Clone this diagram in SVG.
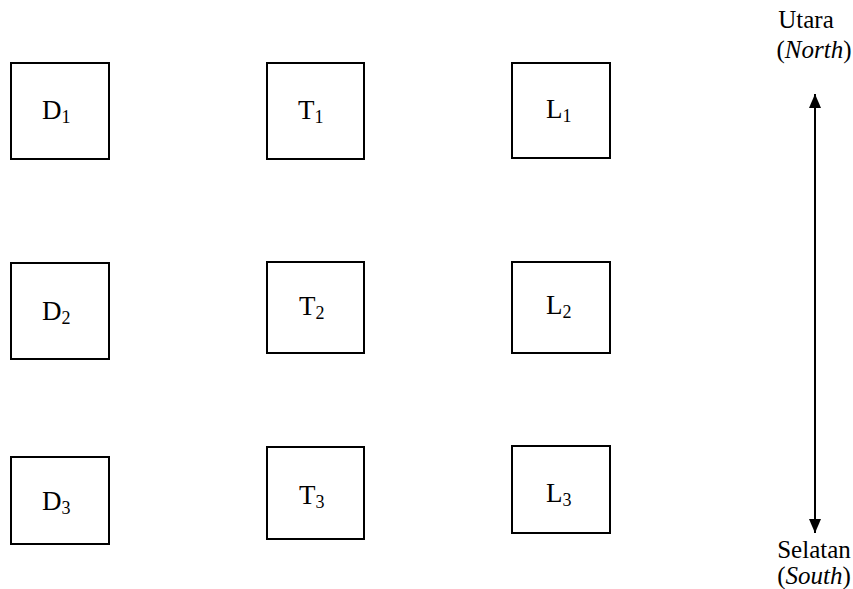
<svg xmlns="http://www.w3.org/2000/svg" width="853" height="589" viewBox="0 0 853 589">
<style>
.box{fill:#fff;stroke:#000;stroke-width:2}
.lbl{font-family:"Liberation Serif",serif;font-size:27px;fill:#000}
.sub{font-size:18px}
.dir{font-family:"Liberation Serif",serif;font-size:25px;fill:#000;text-anchor:middle}
</style>
<defs>
<marker id="ah" viewBox="0 0 14 12" refX="14" refY="6" markerWidth="14" markerHeight="12" markerUnits="userSpaceOnUse" orient="auto-start-reverse">
<path d="M0,0 L14,6 L0,12 Z" fill="#000"/>
</marker>
</defs>
<rect width="853" height="589" fill="#fff"/>
<g id="D1"><rect class="box" x="11" y="63" width="98" height="96"/><text class="lbl" x="42" y="119">D<tspan class="sub" dy="4">1</tspan></text></g>
<g id="T1"><rect class="box" x="267" y="63" width="97" height="96"/><text class="lbl" x="298" y="119">T<tspan class="sub" dy="4">1</tspan></text></g>
<g id="L1"><rect class="box" x="512" y="63" width="98" height="95"/><text class="lbl" x="546" y="118">L<tspan class="sub" dy="4">1</tspan></text></g>
<g id="D2"><rect class="box" x="11" y="263" width="98" height="96"/><text class="lbl" x="42" y="320">D<tspan class="sub" dy="4">2</tspan></text></g>
<g id="T2"><rect class="box" x="267" y="262" width="97" height="91"/><text class="lbl" x="299" y="315">T<tspan class="sub" dy="4">2</tspan></text></g>
<g id="L2"><rect class="box" x="512" y="262" width="98" height="91"/><text class="lbl" x="546" y="314">L<tspan class="sub" dy="4">2</tspan></text></g>
<g id="D3"><rect class="box" x="11" y="457" width="98" height="87"/><text class="lbl" x="42" y="510">D<tspan class="sub" dy="4">3</tspan></text></g>
<g id="T3"><rect class="box" x="267" y="447" width="97" height="92"/><text class="lbl" x="299" y="504">T<tspan class="sub" dy="4">3</tspan></text></g>
<g id="L3"><rect class="box" x="512" y="446" width="98" height="87"/><text class="lbl" x="546" y="502">L<tspan class="sub" dy="4">3</tspan></text></g>
<g id="connectors">
<line x1="815" y1="94" x2="815" y2="533" stroke="#000" stroke-width="2" marker-start="url(#ah)" marker-end="url(#ah)"/>
</g>
<g id="labels">
<text class="dir" x="806" y="28">Utara</text>
<text class="dir" x="814" y="58">(<tspan font-style="italic">North</tspan>)</text>
<text class="dir" x="814" y="558">Selatan</text>
<text class="dir" x="814" y="584">(<tspan font-style="italic">South</tspan>)</text>
</g>
</svg>
